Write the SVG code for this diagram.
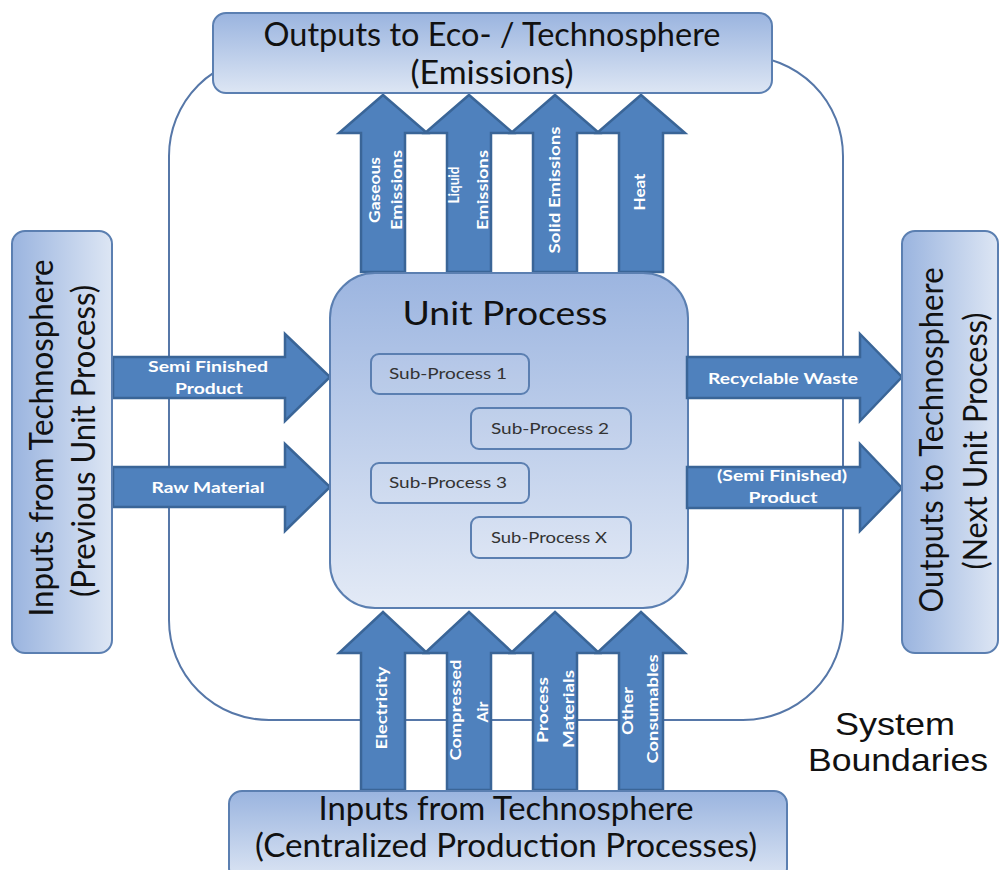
<svg xmlns="http://www.w3.org/2000/svg" width="1002" height="870" viewBox="0 0 1002 870">
<style>
.box{stroke:#5b7fb1;stroke-width:2}
.arrow{fill:#4f81bd;stroke:#3a6597;stroke-width:2.5;stroke-linejoin:miter}
.big{font-family:Lato,"Liberation Sans",sans-serif;font-size:32px;fill:#111;text-anchor:middle}
.lbl{font-family:Lato,"Liberation Sans",sans-serif;font-size:16px;font-weight:bold;fill:#fff;text-anchor:middle}
.sub{font-family:Lato,"Liberation Sans",sans-serif;font-size:16px;fill:#333;text-anchor:middle}
.sys{font-family:"Liberation Sans",Arial,sans-serif;font-size:32px;fill:#111;text-anchor:middle}
</style>
<defs>
<linearGradient id="gv" x1="0" y1="0" x2="0" y2="1"><stop offset="0" stop-color="#9ab4df"/><stop offset="1" stop-color="#dde6f4"/></linearGradient>
<linearGradient id="gh" x1="0" y1="0" x2="1" y2="0"><stop offset="0" stop-color="#9ab4df"/><stop offset="1" stop-color="#dde6f4"/></linearGradient>
<linearGradient id="gu" x1="0" y1="0" x2="0" y2="1"><stop offset="0" stop-color="#9cb5e0"/><stop offset="1" stop-color="#e3eaf6"/></linearGradient>
</defs>
<rect width="1002" height="870" fill="#ffffff"/>
<g id="system-boundary">
<rect x="169" y="56" width="674" height="664" rx="100" ry="100" fill="none" stroke="#5677a8" stroke-width="2"/>
<text class="sys" x="895" y="735" textLength="120" lengthAdjust="spacingAndGlyphs">System</text>
<text class="sys" x="898" y="771" textLength="180" lengthAdjust="spacingAndGlyphs">Boundaries</text>
</g>
<g id="connectors">
<g id="out-gaseous"><path class="arrow" d="M361,272V133H339L383,95L427,133H405V272Z"/>
<text class="lbl" transform="rotate(-90 380 190)" x="380" y="190" textLength="66" lengthAdjust="spacingAndGlyphs">Gaseous</text>
<text class="lbl" transform="rotate(-90 402 190)" x="402" y="190" textLength="80" lengthAdjust="spacingAndGlyphs">Emissions</text></g>
<g id="out-liquid"><path class="arrow" d="M447,272V133H425L469,95L513,133H491V272Z"/>
<text class="lbl" transform="rotate(-90 459 185)" x="459" y="185" textLength="37" lengthAdjust="spacingAndGlyphs">Liquid</text>
<text class="lbl" transform="rotate(-90 488 190)" x="488" y="190" textLength="80" lengthAdjust="spacingAndGlyphs">Emissions</text></g>
<g id="out-solid"><path class="arrow" d="M533,272V133H511L555,95L599,133H577V272Z"/>
<text class="lbl" transform="rotate(-90 560 190)" x="560" y="190" textLength="127" lengthAdjust="spacingAndGlyphs">Solid Emissions</text></g>
<g id="out-heat"><path class="arrow" d="M619,272V133H597L641,95L685,133H663V272Z"/>
<text class="lbl" transform="rotate(-90 645 192)" x="645" y="192" textLength="37" lengthAdjust="spacingAndGlyphs">Heat</text></g>

<g id="in-semi"><path class="arrow" d="M113,357H285V334L330,377L285,421V398H113Z"/>
<text class="lbl" x="208" y="372" textLength="120" lengthAdjust="spacingAndGlyphs">Semi Finished</text>
<text class="lbl" x="209" y="394" textLength="68" lengthAdjust="spacingAndGlyphs">Product</text></g>
<g id="in-raw"><path class="arrow" d="M113,467H285V444L330,487L285,531V507H113Z"/>
<text class="lbl" x="208" y="493" textLength="113" lengthAdjust="spacingAndGlyphs">Raw Material</text></g>

<g id="in-electricity"><path class="arrow" d="M361,790V653H339L383,612L427,653H405V790Z"/>
<text class="lbl" transform="rotate(-90 387 708)" x="387" y="708" textLength="83" lengthAdjust="spacingAndGlyphs">Electricity</text></g>
<g id="in-air"><path class="arrow" d="M447,790V653H425L469,612L513,653H491V790Z"/>
<text class="lbl" transform="rotate(-90 461 710)" x="461" y="710" textLength="101" lengthAdjust="spacingAndGlyphs">Compressed</text>
<text class="lbl" transform="rotate(-90 488 712)" x="488" y="712" textLength="21" lengthAdjust="spacingAndGlyphs">Air</text></g>
<g id="in-materials"><path class="arrow" d="M533,790V653H511L555,612L599,653H577V790Z"/>
<text class="lbl" transform="rotate(-90 548 710)" x="548" y="710" textLength="66" lengthAdjust="spacingAndGlyphs">Process</text>
<text class="lbl" transform="rotate(-90 574 709)" x="574" y="709" textLength="78" lengthAdjust="spacingAndGlyphs">Materials</text></g>
<g id="in-consumables"><path class="arrow" d="M619,790V653H597L641,612L685,653H663V790Z"/>
<text class="lbl" transform="rotate(-90 633 711)" x="633" y="711" textLength="48" lengthAdjust="spacingAndGlyphs">Other</text>
<text class="lbl" transform="rotate(-90 658 709)" x="658" y="709" textLength="109" lengthAdjust="spacingAndGlyphs">Consumables</text></g>
</g>
<g id="unit-process">
<rect class="box" x="330" y="273" width="358" height="335" rx="45" ry="45" fill="url(#gu)"/>
<text class="big" x="505" y="325" font-size="34" textLength="205" lengthAdjust="spacingAndGlyphs">Unit Process</text>
</g>
<g id="sub-process-1"><rect class="box" x="371" y="354" width="158" height="40" rx="8" fill="#ffffff" fill-opacity="0.08"/>
<text class="sub" x="448" y="379" textLength="118" lengthAdjust="spacingAndGlyphs">Sub-Process 1</text></g>
<g id="sub-process-2"><rect class="box" x="471" y="408" width="160" height="41" rx="8" fill="#ffffff" fill-opacity="0.08"/>
<text class="sub" x="550" y="434" textLength="118" lengthAdjust="spacingAndGlyphs">Sub-Process 2</text></g>
<g id="sub-process-3"><rect class="box" x="371" y="463" width="158" height="40" rx="8" fill="#ffffff" fill-opacity="0.08"/>
<text class="sub" x="448" y="488" textLength="118" lengthAdjust="spacingAndGlyphs">Sub-Process 3</text></g>
<g id="sub-process-x"><rect class="box" x="471" y="517" width="160" height="41" rx="8" fill="#ffffff" fill-opacity="0.08"/>
<text class="sub" x="549" y="543" textLength="116" lengthAdjust="spacingAndGlyphs">Sub-Process X</text></g>
<g id="out-recyclable"><path class="arrow" d="M687,357H860V334L902,377L860,421V398H687Z"/>
<text class="lbl" x="783" y="384" textLength="150" lengthAdjust="spacingAndGlyphs">Recyclable Waste</text></g>
<g id="out-product"><path class="arrow" d="M687,467H860V444L902,488L860,531V508H687Z"/>
<text class="lbl" x="782" y="481" textLength="130" lengthAdjust="spacingAndGlyphs">(Semi Finished)</text>
<text class="lbl" x="783" y="503" textLength="69" lengthAdjust="spacingAndGlyphs">Product</text></g>
<g id="outputs-emissions">
<rect class="box" x="213" y="13" width="559" height="80" rx="13" fill="url(#gv)"/>
<text class="big" x="492" y="46" textLength="457" lengthAdjust="spacingAndGlyphs">Outputs to Eco- / Technosphere</text>
<text class="big" x="492" y="84" textLength="163" lengthAdjust="spacingAndGlyphs">(Emissions)</text>
</g>
<g id="inputs-previous">
<rect class="box" x="12" y="231" width="100" height="422" rx="13" fill="url(#gh)"/>
<text class="big" transform="rotate(-90 53 438)" x="53" y="438" textLength="357" lengthAdjust="spacingAndGlyphs">Inputs from Technosphere</text>
<text class="big" transform="rotate(-90 95 441)" x="95" y="441" textLength="312" lengthAdjust="spacingAndGlyphs">(Previous Unit Process)</text>
</g>
<g id="outputs-next">
<rect class="box" x="902" y="231" width="96" height="422" rx="13" fill="url(#gh)"/>
<text class="big" transform="rotate(-90 943 440)" x="943" y="440" textLength="345" lengthAdjust="spacingAndGlyphs">Outputs to Technosphere</text>
<text class="big" transform="rotate(-90 987 441)" x="987" y="441" textLength="257" lengthAdjust="spacingAndGlyphs">(Next Unit Process)</text>
</g>
<g id="inputs-centralized">
<rect class="box" x="229" y="791" width="558" height="90" rx="13" fill="url(#gv)"/>
<text class="big" x="506" y="820" font-size="29" textLength="375" lengthAdjust="spacingAndGlyphs">Inputs from Technosphere</text>
<text class="big" x="506" y="857" font-size="29" textLength="502" lengthAdjust="spacingAndGlyphs">(Centralized Production Processes)</text>
</g>
</svg>
